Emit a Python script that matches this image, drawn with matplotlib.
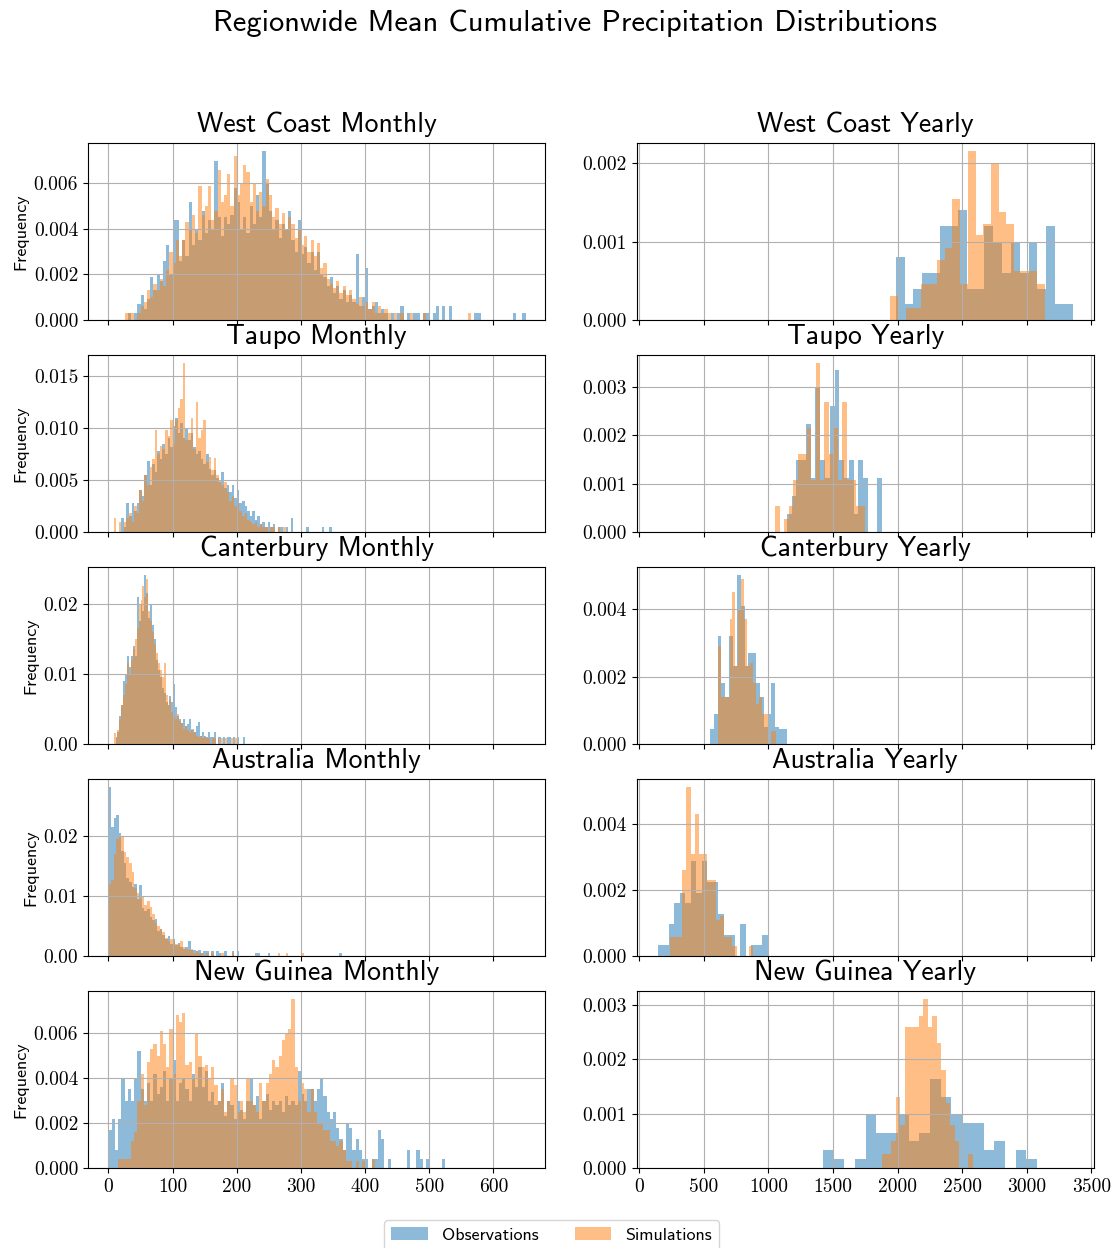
import numpy as np
import matplotlib.pyplot as plt
from matplotlib.patches import Patch

plt.rcParams['font.family'] = 'cmss10'
plt.rcParams['axes.unicode_minus'] = False

regions = ['West Coast', 'Taupo', 'Canterbury', 'Australia', 'New Guinea']
series_labels = ['Observations', 'Simulations']

# Histogram bars as (first bin edge, bin width, densities in units of 1e-4)
# ---- monthly totals (mm) ----
wc_month_obs = (25, 5, [
    0, 3, 0, 3, 7, 11, 5, 9, 19, 13,
    20, 17, 26, 33, 20, 44, 44, 26, 35, 28,
    52, 33, 40, 35, 48, 38, 44, 40, 70, 45,
    37, 45, 42, 46, 58, 52, 40, 45, 38, 50,
    42, 55, 45, 74, 60, 48, 40, 44, 36, 42,
    40, 48, 35, 30, 44, 29, 32, 25, 30, 22,
    30, 20, 19, 15, 19, 12, 15, 9, 13, 8,
    11, 8, 29, 6, 10, 23, 5, 6, 8, 3,
    5, 3, 0, 3, 0, 3, 6, 0, 3, 0,
    3, 3, 0, 3, 3, 0, 3, 6, 0, 6,
    0, 6, 0, 0, 0, 0, 0, 0, 0, 3,
    3, 0, 0, 0, 0, 0, 0, 0, 0, 0,
    0, 3, 0, 0, 3])
wc_month_sim = (25, 5, [
    3, 3, 3, 0, 3, 6, 8, 13, 10, 16,
    13, 18, 15, 22, 30, 25, 35, 28, 35, 43,
    40, 46, 38, 59, 46, 50, 59, 44, 48, 66,
    52, 55, 64, 50, 72, 55, 60, 68, 65, 52,
    60, 48, 56, 50, 62, 55, 45, 49, 42, 47,
    40, 45, 42, 36, 40, 33, 37, 30, 35, 28,
    34, 23, 25, 18, 16, 14, 17, 12, 15, 11,
    13, 9, 7, 10, 6, 8, 5, 8, 3, 6,
    3, 5, 3, 0, 3, 0, 3, 0, 0, 3,
    0, 0, 0, 3, 0, 0, 0, 0, 0, 0,
    0, 0, 0, 0, 0, 0, 0, 3, 0, 0])

taupo_month_obs = (8, 4, [
    0, 0, 0, 13, 5, 28, 15, 28, 20, 28,
    40, 35, 55, 68, 45, 65, 58, 78, 70, 85,
    75, 90, 82, 102, 110, 95, 105, 90, 99, 88,
    95, 82, 75, 78, 70, 65, 75, 61, 55, 60,
    52, 48, 58, 42, 45, 38, 45, 33, 40, 28,
    30, 25, 20, 15, 20, 12, 15, 8, 10, 5,
    10, 5, 8, 0, 5, 5, 0, 5, 0, 13,
    0, 0, 0, 0, 0, 5, 0, 0, 0, 0,
    0, 5, 0, 0, 5])
taupo_month_sim = (8, 4, [
    13, 0, 10, 0, 10, 13, 18, 10, 25, 18,
    40, 30, 55, 45, 62, 70, 98, 75, 83, 80,
    98, 92, 108, 85, 108, 119, 128, 162, 88, 95,
    110, 80, 125, 90, 98, 108, 67, 72, 60, 71,
    55, 50, 45, 48, 38, 30, 35, 25, 28, 20,
    15, 18, 12, 10, 8, 10, 5, 8, 5, 5,
    0, 5, 5, 0, 5, 0, 5])

cant_month_obs = (8, 3, [
    0, 10, 17, 40, 55, 90, 100, 125, 110, 125,
    140, 125, 210, 175, 200, 190, 240, 215, 180, 200,
    170, 150, 120, 105, 95, 80, 72, 60, 55, 68,
    60, 85, 52, 40, 35, 30, 35, 25, 28, 35,
    20, 22, 17, 25, 32, 12, 17, 12, 10, 17,
    10, 10, 17, 0, 10, 10, 0, 10, 0, 10,
    10, 0, 10, 0, 10, 0, 0, 10, 0])
cant_month_sim = (8, 3, [
    15, 8, 20, 35, 55, 70, 85, 115, 100, 120,
    135, 150, 165, 200, 205, 225, 210, 235, 190, 175,
    160, 143, 130, 115, 105, 95, 115, 70, 55, 62,
    45, 40, 35, 43, 33, 30, 22, 25, 20, 17,
    22, 15, 17, 12, 10, 12, 8, 10, 8, 8,
    0, 8, 8, 0, 8, 0, 8, 0, 8, 0,
    0, 8, 0, 8])

aus_month_obs = (0, 4, [
    280, 215, 230, 235, 205, 175, 155, 130, 123, 115,
    120, 95, 118, 80, 75, 78, 65, 60, 62, 42,
    45, 35, 28, 33, 20, 28, 18, 22, 15, 12,
    15, 25, 10, 10, 8, 10, 5, 8, 8, 0,
    8, 0, 8, 5, 0, 8, 0, 0, 8, 0,
    8, 0, 0, 0, 0, 0, 0, 5, 5, 0,
    0, 0, 5, 0, 0, 0, 0, 0, 0, 0,
    0, 0, 0, 0, 0, 0, 0, 0, 0, 0,
    0, 0, 0, 0, 0, 0, 0, 0, 0, 0,
    5])
aus_month_sim = (0, 4, [
    120, 126, 170, 195, 200, 198, 172, 165, 155, 140,
    113, 105, 95, 100, 85, 92, 82, 70, 55, 50,
    45, 40, 30, 25, 28, 25, 20, 18, 25, 15,
    12, 10, 12, 5, 8, 5, 5, 0, 5, 0,
    5, 0, 0, 0, 5, 0, 0, 0, 5, 0,
    0, 0, 0, 0, 0, 0, 0, 0, 0, 0,
    0, 0, 0, 0, 0, 0, 5, 0, 0, 5,
    0, 0, 0, 0, 0, 5])

ng_month_obs = (0, 5, [
    17, 22, 8, 22, 40, 30, 35, 30, 40, 52,
    35, 30, 38, 30, 42, 33, 36, 43, 30, 40,
    48, 30, 38, 40, 35, 30, 42, 36, 45, 36,
    43, 30, 34, 28, 30, 38, 23, 30, 28, 22,
    30, 26, 22, 30, 40, 28, 32, 22, 30, 33,
    26, 30, 28, 30, 25, 32, 28, 30, 28, 43,
    33, 30, 35, 35, 30, 35, 40, 32, 25, 22,
    25, 18, 13, 8, 20, 18, 8, 13, 8, 4,
    4, 0, 4, 4, 17, 13, 0, 4, 0, 0,
    0, 0, 0, 8, 0, 0, 8, 4, 0, 4,
    0, 0, 0, 0, 4, 0])
ng_month_sim = (0, 5, [
    0, 0, 0, 4, 4, 4, 4, 12, 16, 30,
    42, 28, 47, 53, 55, 50, 61, 55, 45, 62,
    42, 68, 65, 69, 46, 47, 40, 60, 50, 45,
    46, 40, 45, 37, 30, 35, 25, 30, 40, 37,
    25, 30, 25, 40, 30, 28, 25, 38, 30, 38,
    42, 48, 45, 50, 57, 60, 62, 75, 45, 30,
    38, 35, 25, 35, 25, 20, 20, 17, 17, 12,
    12, 10, 12, 8, 3, 3, 0, 3, 0, 3,
    0, 0, 4])

# ---- yearly totals (mm) ----
wc_year_obs = (1986, 68.5, [8, 2, 4, 6, 6, 12, 12, 14, 4, 4,
                            12, 10, 6, 10, 6, 10, 4, 12, 2, 2])
wc_year_sim = (1945, 59.8, [3.1, 0, 1.5, 1.5, 4.6, 4.6, 7.7, 9.2, 15.4, 4.6,
                            21.5, 10.8, 12.3, 20.0, 13.8, 12.3, 6.2, 6.2, 6.2, 4.6])

taupo_year_obs = (1143, 36.9, [3.7, 7.4, 14.8, 14.8, 22.3, 11.1, 29.7, 14.8, 11.1, 26.0,
                               33.4, 14.8, 11.1, 14.8, 3.7, 14.8, 11.1, 0, 0, 11.1])
taupo_year_sim = (1055, 34.45, [5.4, 0, 2.7, 5.4, 10.7, 16.1, 16.1, 21.4, 10.7, 34.8,
                                10.7, 26.8, 16.1, 21.4, 10.7, 26.8, 10.7, 10.7, 5.4, 5.4])

cant_year_obs = (548, 29.75, [4.5, 9, 32, 18, 14, 32, 23, 50, 41, 23,
                              27, 27, 18, 14, 5, 9, 18, 5, 4.5, 4.5])
cant_year_sim = (609, 22.7, [29, 14, 14, 14, 37, 45, 23, 40, 49, 37,
                             23, 24, 18, 12, 14, 9, 9, 0, 4, 4])

aus_year_obs = (146, 42.4, [3.2, 3.2, 9.6, 16, 19.2, 16, 28.8, 19.2, 28.8, 22.4,
                            22.4, 12.8, 6.4, 6.4, 0, 9.6, 0, 3.2, 3.2, 6.4])
aus_year_sim = (237, 32.35, [5.8, 5.8, 5.8, 26, 51, 31, 43, 31, 31, 23,
                             23, 11, 12, 5.8, 5.8, 2.9, 0, 0, 0, 2.9])

ng_year_obs = (1421.5, 82.9, [3.3, 1.6, 0, 1.6, 9.8, 6.5, 6.5, 9.8, 4.9, 6.5,
                              16.3, 13, 9.8, 8.2, 8.2, 3.3, 4.9, 0, 3.3, 1.6])
ng_year_sim = (1881.5, 35.1, [2.5, 2.5, 5, 13, 8, 26, 26, 26, 28, 31,
                              26, 28, 23, 18, 12, 8, 5, 0, 0, 2.5])

monthly = [(wc_month_obs, wc_month_sim), (taupo_month_obs, taupo_month_sim),
           (cant_month_obs, cant_month_sim), (aus_month_obs, aus_month_sim),
           (ng_month_obs, ng_month_sim)]
yearly = [(wc_year_obs, wc_year_sim), (taupo_year_obs, taupo_year_sim),
          (cant_year_obs, cant_year_sim), (aus_year_obs, aus_year_sim),
          (ng_year_obs, ng_year_sim)]

colors = ['tab:blue', 'tab:orange']


def draw_hist(ax, series, color):
    start, width, heights = series
    heights = np.asarray(heights, dtype=float) * 1e-4
    edges = start + width * np.arange(len(heights) + 1)
    centers = edges[:-1] + width / 2
    ax.hist(centers, bins=edges, weights=heights, color=color, alpha=0.5)


fig, axes = plt.subplots(5, 2, figsize=(11.19, 12.48), dpi=100, sharex='col')
fig.subplots_adjust(left=0.0786, right=0.9777, top=0.8854, bottom=0.0641,
                    wspace=0.199, hspace=0.198)

for i, region in enumerate(regions):
    for j, (data, period) in enumerate([(monthly, 'Monthly'), (yearly, 'Yearly')]):
        ax = axes[i, j]
        for series, color in zip(data[i], colors):
            draw_hist(ax, series, color)
        ax.set_title(f'{region} {period}', fontsize=20, pad=8)
        ax.grid(True)
        ax.tick_params(labelfontfamily='cmr10', labelsize=14)
    axes[i, 0].set_ylabel('Frequency', fontsize=13)

axes[-1, 0].set_xlim(-32, 681)
axes[-1, 0].set_xticks(np.arange(0, 700, 100))
axes[-1, 1].set_xlim(-20, 3520)
axes[-1, 1].set_xticks(np.arange(0, 3501, 500))

fig.suptitle('Regionwide Mean Cumulative Precipitation Distributions',
             fontsize=22, x=0.514, y=0.981, va='center')

handles = [Patch(facecolor=c, alpha=0.5) for c in colors]
fig.legend(handles, series_labels, loc='upper center', ncol=2,
           bbox_to_anchor=(0.493, 1 - 1211 / 1248), fontsize=13)

fig.savefig('out.png', dpi=100)
